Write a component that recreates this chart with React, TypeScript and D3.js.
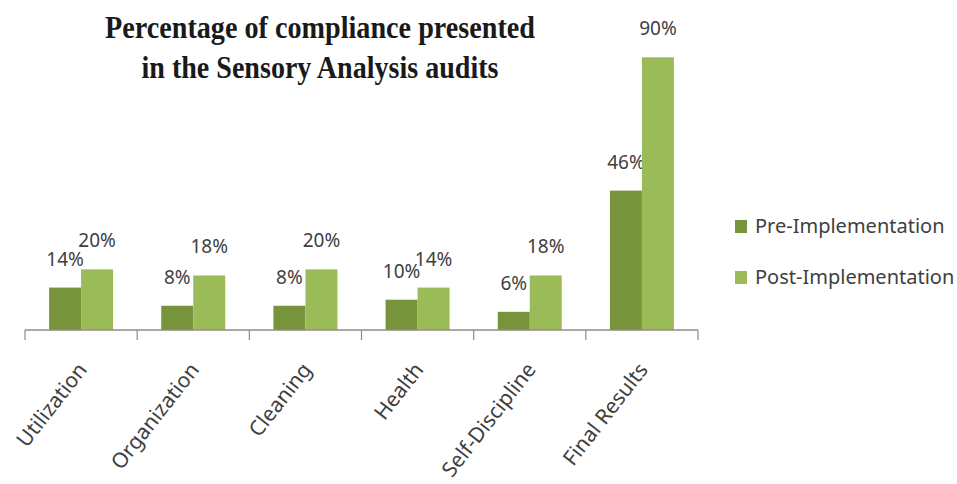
import React from "react";
import * as d3 from "d3";

const categories = ["Utilization", "Organization", "Cleaning", "Health", "Self-Discipline", "Final Results"];
const seriesNames = ["Pre-Implementation", "Post-Implementation"];
const preValues = [14, 8, 8, 10, 6, 46];
const postValues = [20, 18, 20, 14, 18, 90];
const seriesColors = ["#77933C", "#9BBB59"];
const titleLines = ["Percentage of compliance presented", "in the Sensory Analysis audits"];
const titleWidths = [430, 357];

const W = 957;
const H = 484;

export default function App() {
  const x = d3.scaleBand<string>().domain(categories).range([25, 698]).paddingInner(0).paddingOuter(0);
  const bw = x.bandwidth();
  const barW = 32;
  const xi = d3.scaleBand<string>().domain(seriesNames).range([bw / 2 - barW, bw / 2 + barW]);
  const y = d3.scaleLinear().domain([0, 100]).range([330, 27]);
  const values = [preValues, postValues];
  const labelFont = "'Noto Sans', 'Open Sans', sans-serif";
  const ticks = [...categories.map((c) => x(c) as number), 698];

  return (
    <svg width={W} height={H} style={{ position: "absolute", left: 0, top: 0, background: "#fff" }}>
      {titleLines.map((t, i) => (
        <text
          key={t}
          x={320}
          y={38 + i * 40}
          textAnchor="middle"
          fontFamily="'Liberation Serif', 'Times New Roman', serif"
          fontWeight="bold"
          fontSize={32}
          fill="#1a1a1a"
          textLength={titleWidths[i]}
          lengthAdjust="spacingAndGlyphs"
        >
          {t}
        </text>
      ))}
      {seriesNames.map((s, si) =>
        categories.map((c, ci) => {
          const v = values[si][ci];
          const bx = (x(c) as number) + (xi(s) as number);
          return (
            <g key={s + c}>
              <rect x={bx} y={y(v)} width={xi.bandwidth()} height={y(0) - y(v)} fill={seriesColors[si]} />
              <text
                x={bx + xi.bandwidth() / 2}
                y={y(v) - 22}
                textAnchor="middle"
                fontFamily={labelFont}
                fontSize={19}
                fill="#404040"
              >
                {v}%
              </text>
            </g>
          );
        })
      )}
      <line x1={25} x2={698} y1={y(0)} y2={y(0)} stroke="#8c8c8c" strokeWidth={1.5} />
      {ticks.map((t, i) => (
        <line key={i} x1={t} x2={t} y1={y(0)} y2={y(0) + 10} stroke="#8c8c8c" strokeWidth={1.2} />
      ))}
      {categories.map((c) => {
        const cx = (x(c) as number) + bw / 2 + 7;
        const cy = 370;
        return (
          <text
            key={c}
            x={cx}
            y={cy}
            textAnchor="end"
            transform={`rotate(-52 ${cx} ${cy})`}
            fontFamily={labelFont}
            fontSize={21}
            fill="#404040"
          >
            {c}
          </text>
        );
      })}
      {seriesNames.map((s, i) => (
        <g key={s} transform={`translate(735, ${220 + i * 51})`}>
          <rect x={0} y={0} width={12} height={13} fill={seriesColors[i]} />
          <text x={20} y={13} fontFamily={labelFont} fontSize={20} fill="#404040">
            {s}
          </text>
        </g>
      ))}
    </svg>
  );
}
